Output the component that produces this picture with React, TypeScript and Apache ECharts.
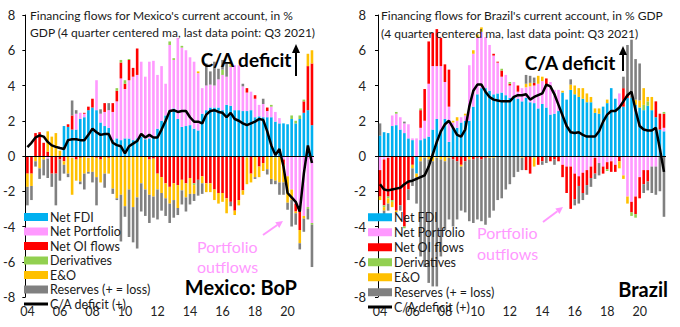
import React, { useEffect, useRef } from "react";
import * as echarts from "echarts";

const years = [2004, 2005, 2006, 2007, 2008, 2009, 2010, 2011, 2012, 2013, 2014, 2015, 2016, 2017, 2018, 2019, 2020, 2021];
const quarterLabels = ["Q1", "Q2", "Q3", "Q4"];
const quarters: string[] = [];
years.forEach((y) => quarterLabels.forEach((q, i) => { if (!(y === 2021 && i > 2)) quarters.push(y + q); }));

const seriesNames = ["Net FDI", "Net Portfolio", "Net OI flows", "Derivatives", "E&O", "Reserves (+ = loss)"];
const lineName = "C/A deficit (+)";
const colors = ["#00B0F0", "#FF99FF", "#FF0000", "#92D050", "#FFC000", "#808080"];

// Mexico (% GDP, 4q centered ma)
const mxFDI = [0,0,0,0,0,0,0,0,0,1.7,1.65,1.5,1.5,2.1,2.2,2.6,2.75,2.6,1.9,1.7,1.6,0.9,1.0,0.9,1.0,1.0,0.9,1.0,1.1,0.95,1.0,1.05,1.55,2.0,2.3,2.6,2.7,2.1,1.65,1.7,1.75,1.55,1.45,2.4,2.6,2.75,2.75,2.75,2.6,2.9,2.85,2.6,2.6,2.55,2.55,2.6,2.2,2.25,2.2,2.2,2.2,1.95,1.85,1.85,1.8,2.1,1.85,2.1,2.45,2.6,1.75];
const mxPort = [0,0,0,0,0,-0.15,0,0,0,0,0,-0.1,0.9,0.35,0.2,-0.1,0,1.7,0.5,0.8,1.0,1.6,2.1,3.5,2.8,3.3,3.6,3.6,4.25,3.55,4.35,4.35,3.05,3.1,1.8,3.7,2.75,4.6,4.5,4.3,3.85,3.8,3.25,1.45,1.4,1.3,1.25,1.6,2.0,1.6,2.2,2.55,2.55,1.4,1.05,1.05,1.05,0.65,0.75,0.35,0.6,0.55,0.3,-0.2,-1.15,-1.9,-2.7,-2.9,-3.4,-2.9,-3.8];
const mxOI = [-1.0,-1.0,1.3,1.35,0.75,0.25,-1.0,-1.0,-0.2,-0.3,0.15,0.8,-0.2,-0.1,0.05,0.2,0.5,-0.1,-0.2,0.5,-0.1,0.5,0.6,0.9,0.3,1.15,0.5,1.5,0,0,-0.2,-0.15,-1.0,-1.2,-1.55,-1.75,-1.55,-1.65,-1.35,-1.55,-1.25,-1.55,-1.35,-1.15,-1.55,-1.55,-1.9,-2.1,-2.1,-2.4,-2.6,-3.1,-2.5,-1.95,0.25,-1.0,0.2,-0.6,-0.4,0.2,0,0,0,-0.3,0,0,-0.45,-1.3,0.65,2.5,3.5];
const mxDer = [0,0,0,0,0,0,0,0,0,0,0,0,0,0,0,0,0,0,0,0,0,0,0.15,0.15,0.2,0.05,0,0,0,0,0,0,0,0,0,0.2,0.1,0,0.1,0,0,-0.1,0,0,0,0,0,0,0.3,0,0.1,0,0,0,-0.1,0,0,0,0,0,0.1,-0.1,0,0,0,0.2,0.15,0.2,0.1,-0.1,-0.1];
const mxEO = [-0.75,-0.7,-0.3,-0.7,-0.2,1.15,1.1,1.3,0.3,-0.2,-1.0,-2.1,-1.2,-1.35,-1.0,-0.8,-0.9,-1.1,-1.3,-1.0,-0.9,-1.85,-2.4,-2.2,-2.85,-1.9,-2.9,-2.35,-1.55,-1.9,-2.0,-2.15,-0.9,-0.9,-0.85,-0.95,-0.95,-1.3,-0.6,-0.8,-0.9,-0.5,0.1,-0.4,-0.5,-0.5,-0.6,-0.6,-0.5,-0.85,0.15,-0.25,-0.3,-0.25,-1.5,-0.5,-1.2,-0.6,-0.45,-0.75,-1.3,-1.3,-1.5,-1.0,-1.5,-0.6,-0.1,-0.75,-0.15,0.7,0.75];
const mxRes = [-1.05,-0.8,-0.3,-0.6,-0.9,-1.1,-0.75,-1.8,-1.2,-0.5,-0.2,0.85,0.2,-0.15,-0.9,-0.1,-0.6,-1.6,0.25,-0.8,0.4,-0.3,-0.1,-2.65,-0.6,-2.7,-2.0,-2.9,-1.6,-1.5,-1.6,-1.2,-1.7,-1.0,-1.0,-1.1,-1.0,-0.4,-0.8,-0.8,-0.6,-0.4,-0.9,-0.6,1.25,0.75,1.35,0.6,0.55,0.75,-0.25,0,0,0.15,0,0,-0.1,0,0.3,-0.3,-0.3,-0.2,-0.7,-0.7,-0.4,-1.5,-0.65,-0.35,-0.75,-0.6,-2.4];
const mxCA = [0.5,0.75,1.05,1.17,1.1,0.8,0.6,0.52,0.45,0.4,0.9,0.95,0.95,0.9,0.9,1.2,1.55,1.35,1.2,1.25,1.25,0.75,0.62,0.55,0.15,0.55,0.7,0.85,1.25,1.05,1.2,1.05,1.05,1.5,2.0,2.55,2.6,2.5,2.55,2.55,2.2,1.95,1.95,1.85,2.35,2.55,2.6,2.5,2.45,2.2,2.45,2.1,2.0,1.85,1.75,1.85,1.95,2.1,2.05,1.4,0.6,0.05,0.4,-0.6,-2.1,-2.35,-2.6,-3.15,-1.0,0.6,-0.4];

// Brazil (% GDP, 4q centered ma)
const brFDI = [1.15,1.35,1.3,1.7,1.75,1.5,1.3,1.0,0.9,-1.0,0.9,1.0,1.1,1.5,2.1,1.5,2.1,0.8,1.6,1.6,1.9,2.0,2.0,2.8,3.5,3.85,3.85,3.7,3.5,3.55,3.6,3.45,3.3,3.4,3.25,3.1,3.3,3.05,3.0,2.7,2.95,2.75,2.35,2.4,2.55,3.6,3.2,3.75,3.5,3.35,3.25,3.05,3.05,2.45,2.4,2.8,3.0,3.85,3.25,2.75,2.8,3.3,3.3,2.9,2.75,2.6,2.85,2.6,2.2,1.5,1.4];
const brPort = [-0.8,-0.2,-0.1,0.6,0.65,0.7,0.55,0.8,0.1,1.0,0.7,1.0,3.0,3.6,3.0,3.6,2.1,2.0,0.3,0.4,0.3,0.3,3.15,3.0,3.2,3.2,2.9,2.6,2.2,1.75,0.9,1.15,0.7,0.8,0.4,0.75,0.6,0.9,1.0,1.4,1.3,1.3,1.85,1.35,1.2,-0.5,-0.6,-0.6,-1.0,-1.15,-0.95,-0.8,-0.6,-0.1,-0.4,-0.6,-0.35,-0.3,-0.5,0.8,-1.1,-2.3,-2.6,-2.3,-1.2,-0.8,-0.8,-0.6,-0.6,0,0.2];
const brOI = [-1.5,-2.6,-2.2,-2.5,-3.1,-2.8,-4.0,-1.9,-0.5,0,1.0,1.8,2.4,1.9,2.1,1.6,1.0,2.1,-0.2,-0.3,-0.5,-0.3,0,-0.2,-0.1,-0.2,-0.1,0,0.1,0.05,0.35,0,0.1,0,0.35,0,-0.8,-1.0,0.15,-0.5,-0.3,0.35,-0.3,-0.2,-0.3,-0.7,-1.5,-2.4,-1.45,-0.55,-1.15,-0.85,-0.65,-0.9,0,-0.4,-0.4,-0.6,-0.4,-0.3,1.05,0.2,-0.6,-1.0,-1.2,-0.8,-0.65,0,0.9,0.9,0.8];
const brDer = [0,-0.1,-0.1,-0.1,0.1,0,-0.1,0,0,0,0.1,0,0,0,0,0,0,0,0,0,0,0,0,0,0,0,0,0,0,0,0.1,0,0.1,0,0,0,0,0,-0.1,0,0,0,0,0,0,0,0,0,0,0,0,0,0,0,0,0,-0.1,0,0,0,0,0,-0.2,-0.2,0,0.3,0.25,0,0,0,0.1];
const brEO = [-0.2,-0.2,-0.3,-0.3,-0.1,0,0,0,-0.2,-0.2,-0.3,-0.1,-0.2,-0.3,-0.1,-0.2,-0.3,-0.1,0.1,0.2,-0.1,0.1,-0.2,0.2,0.2,0.25,0,-0.1,-0.1,0,0,0,0,0,0,-0.1,0.2,0.2,-0.5,0.45,0.25,0,0,0,0,0.1,0,0.3,0.5,0.5,0.6,0.5,0.3,0.25,0.3,0,0.2,0,0,-0.4,-0.2,-0.4,0,0.3,0.4,0.95,0.25,0.75,0,0,0];
const brRes = [0.7,-0.2,-0.4,0,0,-0.3,0.1,-0.6,-1.0,-1.5,-5.4,-6.2,-7.0,-7.1,-7.3,-5.5,-3.9,-3.5,-3.8,-3.3,-2.5,-2.9,-3.5,-3.6,-3.5,-3.5,-3.8,-3.4,-3.0,-2.5,-2.4,-1.9,-1.6,-1.2,-0.9,-0.7,0.5,0.4,0.3,0,-0.2,-0.4,0,-0.3,0,0,0,0.3,-0.35,-1.0,-0.4,-0.55,-0.5,-0.3,-0.7,0,0,0,0,0,0.65,2.8,3.3,2.3,2.1,-0.5,-0.5,-1.5,-1.6,-2.0,-3.45];
const brCA = [-1.6,-1.9,-1.95,-1.9,-1.85,-1.8,-1.6,-1.45,-1.4,-1.3,-1.2,-1.1,-0.6,0.1,0.8,1.4,1.8,2.0,1.6,1.2,1.1,1.5,2.8,3.7,4.05,4.05,3.65,3.35,3.2,3.15,3.1,3.1,3.1,3.35,3.45,3.45,3.5,3.2,3.35,3.45,3.55,4.05,3.95,3.5,2.9,2.3,1.7,1.35,1.3,1.35,1.2,1.1,1.1,1.1,1.4,1.95,2.35,2.55,2.55,2.75,3.1,3.45,3.65,2.6,1.7,1.5,1.45,1.45,1.6,0.4,-0.9];

const mxComps = [mxFDI, mxPort, mxOI, mxDer, mxEO, mxRes];
const brComps = [brFDI, brPort, brOI, brDer, brEO, brRes];

const FONT = "Lato";
const PINK = "#FF99FF";

function arrowHead(x1: number, y1: number, x2: number, y2: number, len: number, half: number, color: string) {
  const dx = x2 - x1, dy = y2 - y1;
  const d = Math.sqrt(dx * dx + dy * dy);
  const ux = dx / d, uy = dy / d;
  const bx = x2 - ux * len, by = y2 - uy * len;
  return [
    { type: "line", shape: { x1, y1, x2: bx, y2: by }, style: { stroke: color, lineWidth: 2 } },
    {
      type: "polygon",
      shape: { points: [[x2, y2], [bx + uy * half, by - ux * half], [bx - uy * half, by + ux * half]] },
      style: { fill: color },
    },
  ];
}

export default function App() {
  const ref = useRef<HTMLDivElement>(null);
  useEffect(() => {
    if (!ref.current) return;
    const chart = echarts.init(ref.current, undefined, { renderer: "svg" });
    const grids = [
      { left: 24, top: 15, width: 290, height: 282 },
      { left: 378, top: 15, width: 288, height: 282 },
    ];
    const xAxis = grids.map((_, i) => ({
      type: "category",
      gridIndex: i,
      data: quarters,
      boundaryGap: true,
      axisLine: { show: false },
      axisTick: { show: false },
      splitLine: { show: false },
      axisLabel: {
        interval: (idx: number) => idx % 8 === 0,
        formatter: (v: string) => v.slice(2, 4),
        fontFamily: FONT,
        fontSize: 12.5,
        color: "#222",
        margin: 8,
      },
    }));
    const yAxis = grids.map((_, i) => ({
      type: "value",
      gridIndex: i,
      min: -8,
      max: 8,
      interval: 2,
      axisLine: { show: true, lineStyle: { color: "#000", width: 1 } },
      axisTick: { show: true, length: 3, lineStyle: { color: "#000" } },
      splitLine: { show: false },
      axisLabel: { fontFamily: FONT, fontSize: 13, color: "#222", margin: i === 0 ? 10 : 12 },
    }));
    const series: any[] = [];
    [mxComps, brComps].forEach((comps, i) => {
      comps.forEach((d, j) => {
        series.push({
          type: "bar",
          name: seriesNames[j],
          xAxisIndex: i,
          yAxisIndex: i,
          stack: "s" + i,
          data: d,
          barWidth: "64%",
          itemStyle: { color: colors[j] },
        });
      });
      series.push({
        type: "line",
        name: lineName,
        xAxisIndex: i,
        yAxisIndex: i,
        data: i === 0 ? mxCA : brCA,
        symbol: "none",
        z: 5,
        lineStyle: { color: "#000", width: 2.5 },
        itemStyle: { color: "#000" },
        markLine: {
          silent: true,
          symbol: "none",
          label: { show: false },
          lineStyle: { color: "#000", width: 1, type: "solid" },
          data: [{ yAxis: 0 }],
        },
      });
    });
    const legendData = seriesNames.map((n) => ({ name: n, icon: "rect" }));
    const legend = [
      { left: 24, top: 210, itemGap: 0.5, lineHeight: 14 },
      { left: 368, top: 210, itemGap: 0.5, lineHeight: 14.5 },
    ].map((l) => ({
      orient: "vertical",
      left: l.left,
      top: l.top,
      itemWidth: 24,
      itemHeight: 8,
      itemGap: l.itemGap,
      selectedMode: false,
      padding: 0,
      textStyle: { fontFamily: FONT, fontSize: 12.5, color: "#1a1a1a", lineHeight: l.lineHeight, padding: [0, 0, 0, -3] },
      data: legendData,
    }));
    const txt = (x: number, y: number, text: string, font: string, fill: string, align = "left") => ({
      type: "text",
      x,
      y,
      style: { text, font, fill, align, verticalAlign: "middle" },
    });
    const graphic: any[] = [
      txt(30, 15, "Financing flows for Mexico's current account, in %", `12px ${FONT}`, "#1a1a1a"),
      txt(30, 32, "GDP (4 quarter centered ma, last data point: Q3 2021)", `12px ${FONT}`, "#1a1a1a"),
      txt(381, 15, "Financing flows for Brazil's current account, in % GDP", `12px ${FONT}`, "#1a1a1a"),
      txt(381, 33, "(4 quarter centered ma, last data point: Q3 2021)", `12px ${FONT}`, "#1a1a1a"),
      txt(246, 59, "C/A deficit", `bold 19px ${FONT}`, "#000", "center"),
      txt(570, 62, "C/A deficit", `bold 19px ${FONT}`, "#000", "center"),
      txt(297, 287, "Mexico: BoP", `bold 20px ${FONT}`, "#000", "right"),
      txt(668, 289, "Brazil", `bold 20px ${FONT}`, "#000", "right"),
      txt(197, 246, "Portfolio", `16px ${FONT}`, PINK),
      txt(197, 266, "outflows", `16px ${FONT}`, PINK),
      txt(477, 232, "Portfolio", `16px ${FONT}`, PINK),
      txt(477, 253, "outflows", `16px ${FONT}`, PINK),
      { type: "line", shape: { x1: 24, y1: 304, x2: 48, y2: 304 }, style: { stroke: "#000", lineWidth: 3 } },
      txt(50, 304, lineName, `12.5px ${FONT}`, "#1a1a1a"),
      { type: "line", shape: { x1: 368, y1: 307, x2: 392, y2: 307 }, style: { stroke: "#000", lineWidth: 3 } },
      txt(394, 307, lineName, `12.5px ${FONT}`, "#1a1a1a"),
      ...arrowHead(296, 76, 296, 44, 9, 4, "#000"),
      ...arrowHead(623, 71, 623, 46, 9, 4, "#000"),
      ...arrowHead(263, 235, 283, 221, 7, 3.5, PINK),
      ...arrowHead(543, 222, 563, 207, 7, 3.5, PINK),
    ].map((g: any) => ({ ...g, z: 10 }));
    chart.setOption({
      animation: false,
      grid: grids,
      xAxis,
      yAxis,
      legend,
      series,
      graphic,
    });
    return () => chart.dispose();
  }, []);
  return <div ref={ref} style={{ position: "absolute", left: 0, top: 0, width: 680, height: 327, background: "#fff" }} />;
}
